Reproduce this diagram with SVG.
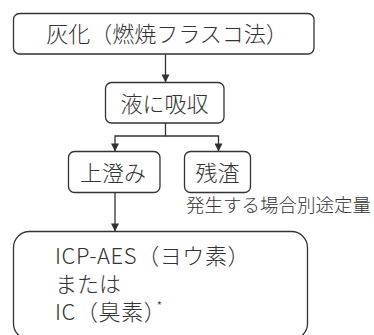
<svg xmlns="http://www.w3.org/2000/svg" width="374" height="335" viewBox="0 0 374 335">
<defs>
<style>
.box{fill:#fff;stroke:#333;stroke-width:1.3}
.t{font-family:"Noto Sans CJK JP","Noto Sans",sans-serif;font-weight:300;fill:#333}
.b{font-size:22px;text-anchor:middle}
.m{font-size:22px}
.c{stroke:#333;stroke-width:1.3;fill:none}
</style>
<marker id="ah" viewBox="0 0 10 10" refX="10" refY="5" markerWidth="9" markerHeight="8" markerUnits="userSpaceOnUse" orient="auto">
<path d="M0,0 L10,5 L0,10 z" fill="#333"/>
</marker>
</defs>
<rect width="374" height="335" fill="#fff"/>
<g id="connectors">
<line class="c" x1="165.5" y1="54" x2="165.5" y2="82.5" marker-end="url(#ah)"/>
<polyline class="c" points="165.5,123 165.5,136 115,136 115,151.5" marker-end="url(#ah)"/>
<polyline class="c" points="165.5,136 218.5,136 218.5,151.5" marker-end="url(#ah)"/>
<line class="c" x1="115" y1="193" x2="115" y2="231.5" marker-end="url(#ah)"/>
</g>
<g id="n1">
<rect class="box" x="13.5" y="13.5" width="300.5" height="40.5" rx="6"/>
<text class="t b" x="167" y="42">灰化（燃焼フラスコ法）</text>
</g>
<g id="n2">
<rect class="box" x="105.5" y="82.5" width="118.5" height="40.5" rx="6"/>
<text class="t b" x="164.5" y="112">液に吸収</text>
</g>
<g id="n3">
<rect class="box" x="68.5" y="151.5" width="91.5" height="41" rx="6"/>
<text class="t b" x="113" y="181">上澄み</text>
</g>
<g id="n4">
<rect class="box" x="184.5" y="151.5" width="66" height="41" rx="6"/>
<text class="t b" x="217.5" y="181">残渣</text>
<text class="t" x="186" y="212" font-size="18.5">発生する場合別途定量</text>
</g>
<g id="n5">
<rect class="box" x="13.5" y="231.5" width="294" height="108" rx="16"/>
<text class="t m" x="55" y="264" letter-spacing="0.6">ICP-AES（ヨウ素）</text>
<text class="t m" x="55" y="292">または</text>
<text class="t m" x="55" y="320" letter-spacing="0.6">IC（臭素）<tspan font-size="13" dx="-10" dy="-9">*</tspan></text>
</g>
</svg>
